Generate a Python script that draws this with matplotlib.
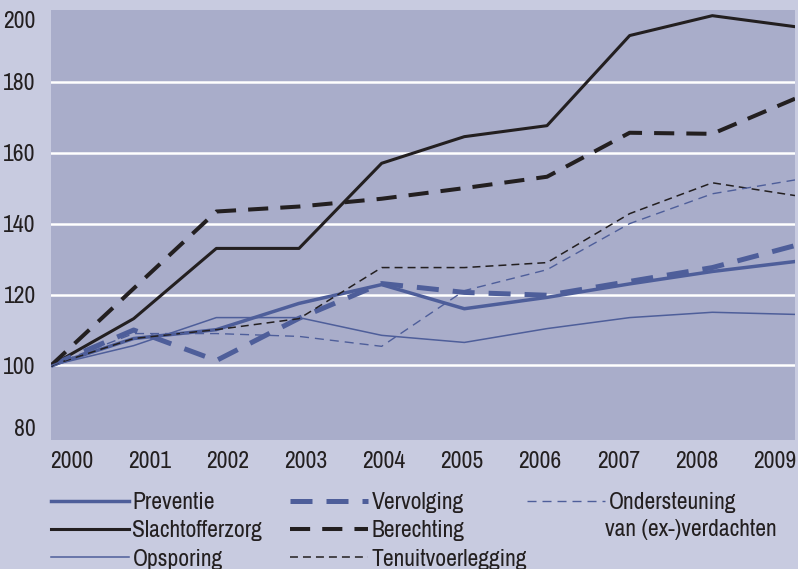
import matplotlib
matplotlib.use("Agg")
import matplotlib.pyplot as plt

# gegevens (index, 2000 = 100)
jaren = [2000, 2001, 2002, 2003, 2004, 2005, 2006, 2007, 2008, 2009]
preventie = [100, 107.6, 110.1, 117.5, 122.8, 116.0, 119.2, 123.0, 126.5, 129.3]
slachtofferzorg = [100, 113.2, 133.0, 133.0, 157.0, 164.5, 167.6, 193.0, 198.6, 195.5]
opsporing = [100, 105.6, 113.5, 113.5, 108.5, 106.5, 110.4, 113.5, 115.0, 114.4]
vervolging = [100, 110.0, 101.4, 113.3, 123.1, 120.6, 119.8, 123.7, 127.6, 133.8]
berechting = [100, 121.7, 143.4, 144.8, 147.0, 150.0, 153.2, 165.6, 165.3, 175.2]
tenuitvoerlegging = [100, 107.6, 110.1, 113.2, 127.6, 127.6, 129.0, 142.8, 151.5, 147.9]
ondersteuning = [100, 109.0, 109.0, 108.2, 105.4, 121.1, 127.0, 140.0, 148.4, 152.3]

y_ticks = [80, 100, 120, 140, 160, 180, 200]
rasterlijnen = [100, 120, 140, 160, 180]

blauw = "#4e5e9a"
zwart = "#231f20"
fig_bg = "#c8cbe0"
ax_bg = "#a9adca"

plt.rcParams['font.family'] = ['Archivo Narrow', 'DejaVu Sans']

fig = plt.figure(figsize=(7.98, 5.69), dpi=100, facecolor=fig_bg)
ax = fig.add_axes([51 / 798, 1 - 440 / 569, 744 / 798, 430 / 569])
ax.set_facecolor(ax_bg)

for g in rasterlijnen:
    ax.axhline(g, color="white", lw=1.8, zorder=1)

h = {}
h['Preventie'], = ax.plot(jaren, preventie, color=blauw, lw=2.5, zorder=3)
h['Slachtofferzorg'], = ax.plot(jaren, slachtofferzorg, color=zwart, lw=2.2, zorder=3)
h['Opsporing'], = ax.plot(jaren, opsporing, color=blauw, lw=1.1, zorder=3)
h['Vervolging'], = ax.plot(jaren, vervolging, color=blauw, lw=3.6, dashes=(4.4, 2.8), zorder=3)
h['Berechting'], = ax.plot(jaren, berechting, color=zwart, lw=2.9, dashes=(5, 3), zorder=3)
h['Tenuitvoerlegging'], = ax.plot(jaren, tenuitvoerlegging, color=zwart, lw=1.1, dashes=(5.2, 3.3), zorder=3)
h['Ondersteuning'], = ax.plot(jaren, ondersteuning, color=blauw, lw=1.0, dashes=(6.5, 4.3), zorder=3)

ax.set_xlim(jaren[0], jaren[-1])
ax.set_ylim(79, 200.2)

# jaarlabels gelijk verdeeld over de breedte (eerste links, laatste rechts uitgelijnd)
half = 0.248
stap = (jaren[-1] - jaren[0] - 2 * half) / (len(jaren) - 1)
ax.set_xticks([jaren[0] + half + i * stap for i in range(len(jaren))])
ax.set_xticklabels([str(j) for j in jaren])
ax.set_yticks(y_ticks)
ax.tick_params(length=0, labelsize=17, colors="#231f20")
ax.tick_params(axis="y", pad=11)
ax.tick_params(axis="x", pad=8)
ylabs = ax.get_yticklabels()
ylabs[0].set_va("baseline")
ylabs[-1].set_va("top")
for s in ax.spines.values():
    s.set_visible(False)

# legenda in drie kolommen
kolommen = [
    (['Preventie', 'Slachtofferzorg', 'Opsporing'], 51),
    (['Vervolging', 'Berechting', 'Tenuitvoerlegging'], 290),
    (['Ondersteuning'], 527),
]
for namen, x in kolommen:
    fig.legend([h[n] for n in namen], namen, loc="upper left",
               bbox_to_anchor=(x / 798, 1 - 492 / 569), frameon=False,
               borderpad=0, borderaxespad=0, handlelength=3.3,
               handletextpad=0.15, labelspacing=0.31, fontsize=17,
               labelcolor="#231f20")
fig.text(605 / 798, 1 - 530 / 569, "van (ex-)verdachten", fontsize=17,
         color="#231f20", va="center", ha="left")

fig.savefig("out.png", dpi=100, facecolor=fig_bg)
